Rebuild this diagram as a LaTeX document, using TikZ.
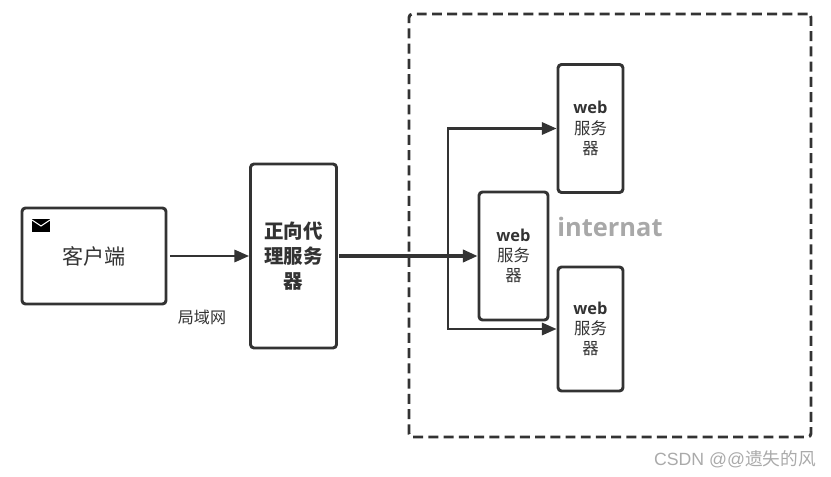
\documentclass[tikz,border=0pt]{standalone}
\usepackage{fontspec}
\usepackage{xcolor}
\usepackage{tikz}
\usetikzlibrary{arrows.meta, positioning, calc}
\setmainfont{Open Sans}
\newfontfamily\cjk{Noto Sans CJK SC}
\newfontfamily\wmark{Liberation Sans}
\definecolor{cLine}{RGB}{51,51,51}
\definecolor{cMuted}{RGB}{168,168,168}
\definecolor{cMark}{RGB}{170,170,170}
\tikzset{
	box/.style     ={rectangle, draw=cLine, line width=2.5pt, rounded corners=3pt, align=center, text=cLine, inner sep=0pt},
	webbox/.style  ={box, minimum width=1.95cm, font=\fontsize{14}{17.2}\selectfont},
	zone/.style    ={rectangle, draw=cLine, line width=2.5pt, rounded corners=3pt, dash pattern=on 8.5pt off 4.5pt, minimum width=12.06cm, minimum height=12.69cm},
	flowarrow/.style={-{Triangle[length=12.5pt, width=10.5pt]}, draw=cLine, line width=2pt},
}
\newcommand{\webtext}{{\bfseries web}\\{\cjk 服务}\\{\cjk 器}}
\begin{document}
\begin{tikzpicture}[x=0.03cm, y=-0.03cm]
	\useasboundingbox (0,0) rectangle (831,477);
	\node[zone] (inet) at (610,225.5) {};
	\node[box, minimum width=4.32cm, minimum height=2.88cm, font=\cjk\fontsize{18}{22}\selectfont] (client) at (94,256) {客户端};
	\node[box, minimum width=2.58cm, minimum height=5.52cm, font=\cjk\bfseries\fontsize{16.6}{21.3}\selectfont] (proxy) at (293.5,256) {正向代\\理服务\\器};
	\node[webbox, minimum height=3.84cm] (webtop) at (590.5,128.5) {\webtext};
	\node[webbox, minimum width=2.07cm, minimum height=3.84cm] (webmid) at (513.5,256) {\webtext};
	\node[webbox, minimum height=3.72cm] (webbot) at (590.5,329) {\webtext};
	\node[font=\cjk\fontsize{13.7}{16}\selectfont, text=cLine] (lan) at (202,317) {局域网};
	\node[font=\bfseries\fontsize{21.7}{26}\selectfont, text=cMuted] (inetlabel) at (610,227) {internat};
	\node[font=\fontsize{15.1}{18}\selectfont, text=cMark, anchor=east, inner sep=0pt] (mark) at (816,459) {\wmark CSDN @@{\cjk 遗失的风}};
	\coordinate (branch) at (448,256);
	% envelope
	\fill[black] (32,219) rectangle (50,232);
	\draw[white, line width=0.9pt] (32,220) -- (41,226) -- (50,220);
	% connectors
	\draw[flowarrow, shorten <=2pt] (client) -- (proxy);
	\draw[flowarrow, line width=2.6pt, shorten <=1pt] (proxy) -- (webmid);
	\draw[flowarrow] (branch) |- (webtop.west);
	\draw[flowarrow] (branch) |- (webbot.west);
\end{tikzpicture}
\end{document}
